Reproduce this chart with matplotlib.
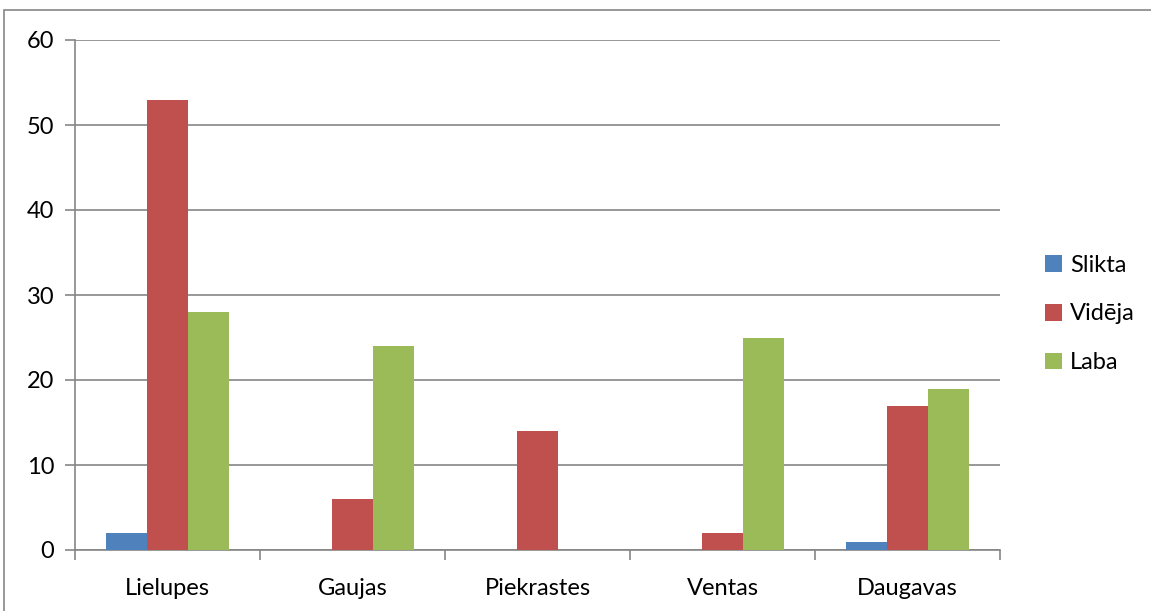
import numpy as np
import matplotlib.pyplot as plt
from matplotlib.patches import Rectangle

plt.rcParams['font.family'] = ['Lato', 'DejaVu Sans']

# River basins and counts per quality class
basins = ['Lielupes', 'Gaujas', 'Piekrastes', 'Ventas', 'Daugavas']
slikta = [2, 0, 0, 0, 1]
videja = [53, 6, 14, 2, 17]
laba = [28, 24, 0, 25, 19]

series = [('Slikta', slikta, '#4F81BD'),
          ('Vidēja', videja, '#C0504D'),
          ('Laba', laba, '#9BBB59')]

grid_col = '#868686'
fs = 17

fig = plt.figure(figsize=(11.51, 6.11), dpi=100)
ax = fig.add_axes([75 / 1151, 61 / 611, 925 / 1151, 510 / 611])

# outer chart frame
fig.patches.append(Rectangle((4 / 1151, -0.05), 1.2, 0.05 + 1 - 10 / 611,
                             transform=fig.transFigure, fill=False,
                             edgecolor=grid_col, linewidth=1.2))

x = np.arange(len(basins))
w = 0.222
for i, (name, vals, col) in enumerate(series):
    ax.bar(x + (i - 1) * w, vals, width=w, color=col, label=name, zorder=3)

ax.set_xlim(-0.5, len(basins) - 0.5)
ax.set_ylim(0, 60)
ax.set_yticks(range(0, 61, 10))
ax.yaxis.grid(True, color=grid_col, linewidth=1.2, zorder=0)

ax.set_xticks(x)
ax.set_xticklabels(basins)
ax.set_xticks(np.arange(-0.5, len(basins)), minor=True)
ax.tick_params(axis='x', which='major', length=0, pad=20, labelsize=fs)
ax.tick_params(axis='x', which='minor', length=7, width=1.2, color=grid_col,
               direction='out')
ax.tick_params(axis='y', length=7, width=1.2, color=grid_col, pad=8,
               labelsize=fs)

for s in ('top', 'right'):
    ax.spines[s].set_visible(False)
for s in ('left', 'bottom'):
    ax.spines[s].set_color(grid_col)
    ax.spines[s].set_linewidth(1.2)

fig.legend(loc='center left', bbox_to_anchor=(1024 / 1151, 1 - 314 / 611),
           frameon=False, fontsize=fs, handlelength=0.7, handleheight=0.7,
           handletextpad=0.35, labelspacing=1.17)

fig.savefig('out.png', dpi=100)
